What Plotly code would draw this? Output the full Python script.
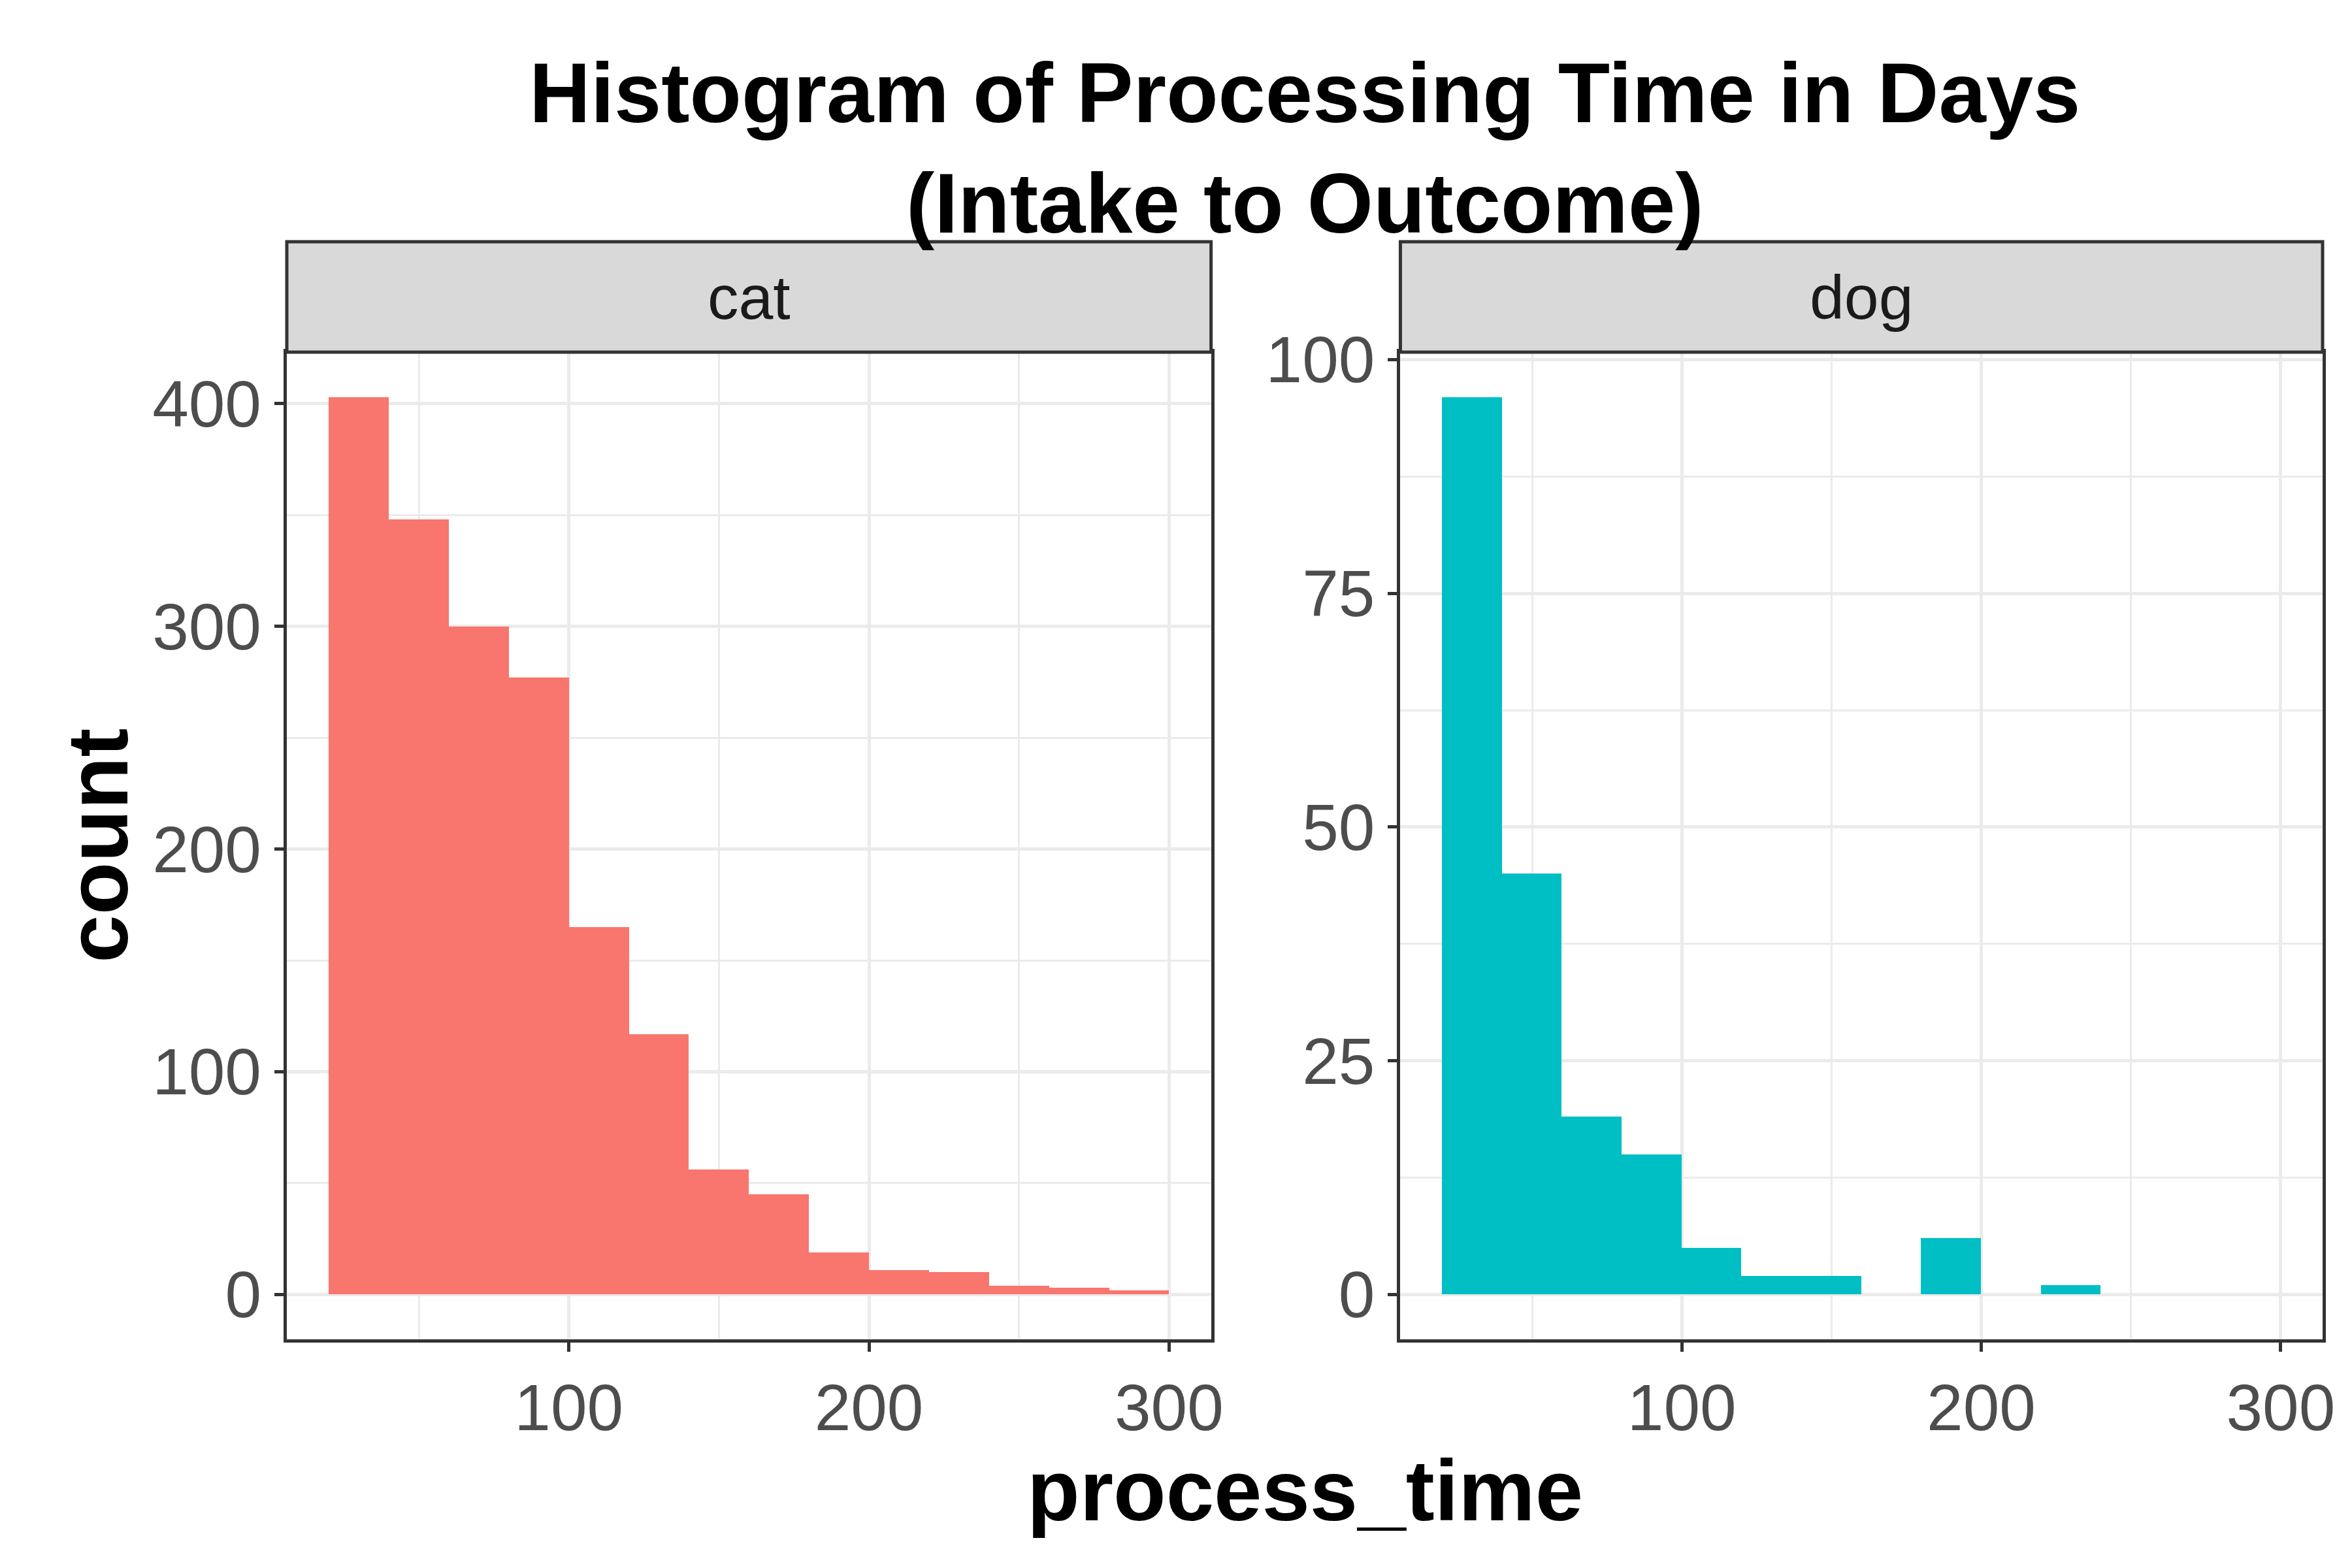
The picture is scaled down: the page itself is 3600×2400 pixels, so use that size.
import plotly.graph_objects as go

bin_starts = list(range(20, 300, 20))
cat_counts = [403, 348, 300, 277, 165, 117, 56, 45, 19, 11, 10, 4, 3, 2]
dog_counts = [96, 45, 19, 15, 5, 2, 2, 0, 6, 0, 1, 0, 0, 0]
cat_color = "#F8766D"
dog_color = "#00BFC4"
x_ticks = [100, 200, 300]
cat_y_ticks = [0, 100, 200, 300, 400]
dog_y_ticks = [0, 25, 50, 75, 100]

centers = [b + 10 for b in bin_starts]
fig = go.Figure()
fig.add_trace(go.Bar(x=centers, y=cat_counts, width=20, marker=dict(color=cat_color, line=dict(width=0)),
                     xaxis="x", yaxis="y", showlegend=False))
fig.add_trace(go.Bar(x=centers, y=dog_counts, width=20, marker=dict(color=dog_color, line=dict(width=0)),
                     xaxis="x2", yaxis="y2", showlegend=False))

font = "Liberation Sans, Arial"
tickfont = dict(family=font, size=100, color="#4D4D4D")
common = dict(showgrid=True, gridcolor="#EBEBEB", gridwidth=5, zeroline=False,
              showline=True, mirror=True, linecolor="#333333", linewidth=5,
              ticks="outside", ticklen=14, tickwidth=5, tickcolor="#333333", tickfont=tickfont)
minor_style = dict(showgrid=True, gridcolor="#EBEBEB", gridwidth=2.5)
xr = [6, 314]
d1 = [0, 0.454]
d2 = [0.547, 1]
fig.update_layout(
    width=3600, height=2400, plot_bgcolor="white", paper_bgcolor="white", bargap=0,
    margin=dict(l=431, r=53, t=531, b=358),
    xaxis=dict(domain=d1, range=xr, tickvals=x_ticks, minor=dict(tickvals=[50, 150, 250], **minor_style), **common),
    xaxis2=dict(domain=d2, range=xr, tickvals=x_ticks, anchor="y2", minor=dict(tickvals=[50, 150, 250], **minor_style), **common),
    yaxis=dict(range=[-20.15, 423.15], tickvals=cat_y_ticks, minor=dict(tickvals=[50, 150, 250, 350], **minor_style), **common),
    yaxis2=dict(range=[-4.8, 100.8], tickvals=dog_y_ticks, anchor="x2", minor=dict(tickvals=[12.5, 37.5, 62.5, 87.5], **minor_style), **common),
)
strip_h = 169 / 1511
for (dom, label) in [(d1, "cat"), (d2, "dog")]:
    fig.add_shape(type="rect", xref="paper", yref="paper", x0=dom[0], x1=dom[1], y0=1, y1=1 + strip_h,
                  fillcolor="#D9D9D9", line=dict(color="#333333", width=5))
    fig.add_annotation(xref="paper", yref="paper", x=(dom[0] + dom[1]) / 2, y=1 + strip_h / 2,
                       xanchor="center", yanchor="middle",
                       text=label, showarrow=False, font=dict(family=font, size=95, color="#1A1A1A"))
fig.add_annotation(xref="paper", yref="paper", x=0.5, y=1.2065, yanchor="middle", xanchor="center",
                   text="<b>Histogram of Processing Time in Days<br>(Intake to Outcome)</b>", showarrow=False,
                   font=dict(family=font, size=130, color="black"))
fig.add_annotation(xref="paper", yref="paper", x=0.5, y=-0.153, yanchor="middle", xanchor="center",
                   text="<b>process_time</b>", showarrow=False,
                   font=dict(family=font, size=132, color="black"))
fig.add_annotation(xref="paper", yref="paper", x=-0.093, y=0.5, textangle=-90, xanchor="center", yanchor="middle",
                   text="<b>count</b>", showarrow=False,
                   font=dict(family=font, size=132, color="black"))
fig.write_html("out.html")
